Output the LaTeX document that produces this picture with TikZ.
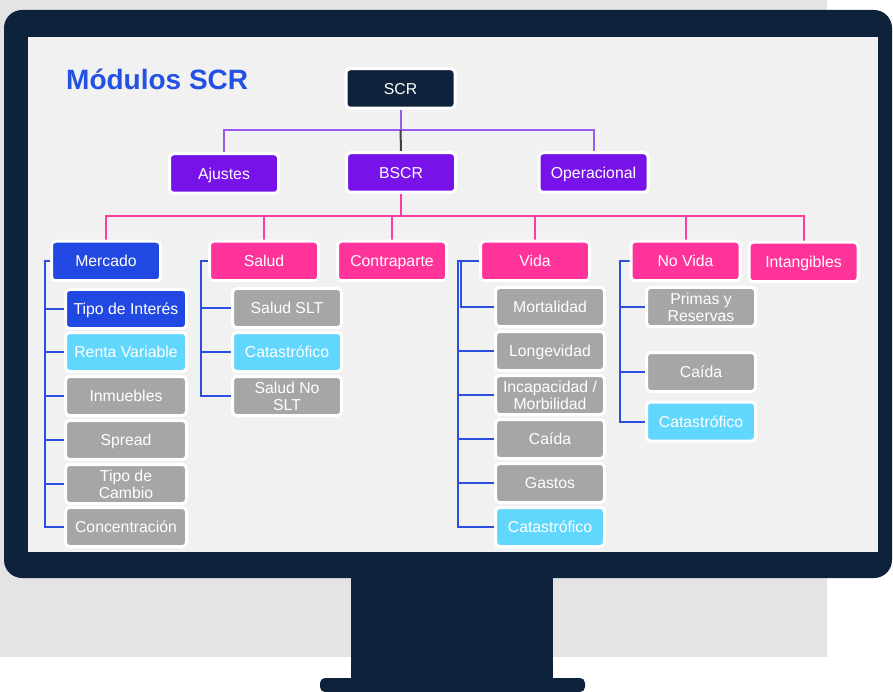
\documentclass[tikz,border=0pt]{standalone}
\usepackage{fontspec}
\setmainfont{Liberation Sans}
\pgfdeclarelayer{back}
\pgfdeclarelayer{wires}
\pgfsetlayers{back,wires,main}

\definecolor{navy}{HTML}{0E233B}
\definecolor{deskgray}{HTML}{E4E4E4}
\definecolor{screenbg}{HTML}{F1F1F1}
\definecolor{titleblue}{HTML}{2251E3}
\definecolor{boxblue}{HTML}{2148E3}
\definecolor{boxpink}{HTML}{FF3399}
\definecolor{boxpurple}{HTML}{7712E8}
\definecolor{boxgray}{HTML}{A6A6A6}
\definecolor{boxcyan}{HTML}{62D7FE}
\definecolor{linepurple}{HTML}{9B59F0}
\definecolor{linepink}{HTML}{FF3C9E}
\definecolor{lineblue}{HTML}{2C4FE0}
\definecolor{linedark}{HTML}{404040}

\newcommand\boxfont{\fontsize{15.8}{16.8}\selectfont}

\begin{document}
\begin{tikzpicture}[x=1pt,y=-1pt,
  modbox/.style={draw=white, line width=3pt, rounded corners=4pt,
    minimum width=109pt, minimum height=39.5pt, inner sep=0pt,
    text height=11.3pt, text depth=0pt,
    align=center, text=white, font=\boxfont},
  twoline/.style={text height={}, text depth={}},
  widebox/.style={modbox, minimum width=121pt},
  subbox/.style={modbox, minimum height=39pt},
  topbox/.style={modbox, fill=navy},
  purplebox/.style={modbox, fill=boxpurple},
  pinkbox/.style={modbox, fill=boxpink},
  bluebox/.style={modbox, fill=boxblue},
  graysub/.style={subbox, fill=boxgray},
  cyansub/.style={subbox, fill=boxcyan},
  purpwire/.style={draw=linepurple, line width=2pt},
  darkwire/.style={draw=linedark, line width=2pt},
  pinkwire/.style={draw=linepink, line width=2pt},
  bluewire/.style={draw=lineblue, line width=2pt}]
\useasboundingbox (0,0) rectangle (893,692);

% desk, monitor and screen
\begin{pgfonlayer}{back}
  \fill[white] (0,0) rectangle (893,692);
  \fill[deskgray] (0,0) rectangle (827,657);
  \fill[navy, rounded corners=18pt] (4,10) rectangle (892,578);
  \fill[navy] (351,570) rectangle (553,682);
  \fill[navy, rounded corners=5pt] (320,678) rectangle (585,692);
  \fill[screenbg] (28,37) rectangle (878,552);
\end{pgfonlayer}

% title
\node[anchor=base west, text=titleblue, font=\fontsize{28}{30}\selectfont\bfseries, inner sep=0pt]
  (title) at (66,90) {Módulos SCR};

% top levels
\node[topbox]    (scr)    at (400.5,88.5) {SCR};
\node[purplebox] (aj)     at (224,173.5)  {Ajustes};
\node[purplebox] (bscr)   at (401,172.5)  {BSCR};
\node[purplebox] (op)     at (593.5,172.5){Operacional};

\node[bluebox]   (merc)   at (106,261)    {Mercado};
\node[pinkbox]   (salud)  at (264,261)    {Salud};
\node[pinkbox]   (contra) at (392,261)    {Contraparte};
\node[pinkbox]   (vida)   at (535,261)    {Vida};
\node[pinkbox]   (novida) at (685.5,261)  {No Vida};
\node[pinkbox]   (intang) at (803.5,262)  {Intangibles};

% Mercado
\node[widebox, minimum height=39pt, fill=boxblue] (ti) at (126,309) {Tipo de Interés};
\node[widebox, minimum height=39pt, fill=boxcyan] (rv) at (126,352) {Renta Variable};
\node[widebox, minimum height=39pt, fill=boxgray] (inm) at (126,396) {Inmuebles};
\node[widebox, minimum height=39pt, fill=boxgray] (spr) at (126,440) {Spread};
\node[widebox, minimum height=39pt, fill=boxgray, twoline] (tc) at (126,484) {Tipo de\\Cambio};
\node[widebox, minimum height=39pt, fill=boxgray] (conc) at (126,527) {Concentración};

% Salud
\node[graysub] (sslt)  at (287,308) {Salud SLT};
\node[cyansub] (scat)  at (287,352) {Catastrófico};
\node[graysub, twoline] (snslt) at (287,396) {Salud No\\SLT};

% Vida
\node[graysub] (mort)  at (550,307) {Mortalidad};
\node[graysub] (long)  at (550,351) {Longevidad};
\node[graysub, twoline] (incap) at (550,395) {Incapacidad /\\Morbilidad};
\node[graysub] (vcaid) at (550,439) {Caída};
\node[graysub] (gast)  at (550,483) {Gastos};
\node[cyansub] (vcat)  at (550,527) {Catastrófico};

% No Vida
\node[graysub, twoline] (prim)  at (701,307)   {Primas y\\Reservas};
\node[graysub] (ncaid) at (701,372)   {Caída};
\node[cyansub] (ncat)  at (701,421.5) {Catastrófico};

% junctions and bracket spines
\coordinate (j1) at (400.5,130);
\coordinate (j2) at (401,216);
\coordinate (mb) at (45,261);
\coordinate (sb) at (201,261);
\coordinate (vb) at (458,261);
\coordinate (vb2) at (461,261);
\coordinate (nb) at (620,261);

\begin{pgfonlayer}{wires}
  % SCR to its modules
  \draw[purpwire] (scr.south) -- (j1);
  \draw[purpwire] (aj.north) |- (j1) -| (op.north);
  \draw[darkwire] (j1) -- (bscr.north);

  % BSCR to its modules
  \draw[pinkwire] (bscr.south) -- (j2);
  \draw[pinkwire] (merc.north) |- (j2) -| (intang.north);
  \foreach \n in {salud,contra,vida,novida}
    \draw[pinkwire] (\n.north) -- (\n.north |- j2);

  % Mercado bracket
  \draw[bluewire] (merc.west) -- (mb) |- (conc.west);
  \foreach \n in {ti,rv,inm,spr,tc}
    \draw[bluewire] (\n.west) -- (\n.west -| mb);

  % Salud bracket
  \draw[bluewire] (salud.west) -- (sb) |- (snslt.west);
  \foreach \n in {sslt,scat}
    \draw[bluewire] (\n.west) -- (\n.west -| sb);

  % Vida bracket
  \draw[bluewire] (vida.west) -- (vb) |- (vcat.west);
  \draw[bluewire] (vb2) |- (mort.west);
  \foreach \n in {long,incap,vcaid,gast}
    \draw[bluewire] (\n.west) -- (\n.west -| vb);

  % No Vida bracket
  \draw[bluewire] (novida.west) -- (nb) |- (ncat.west);
  \foreach \n in {prim,ncaid}
    \draw[bluewire] (\n.west) -- (\n.west -| nb);
\end{pgfonlayer}
\end{tikzpicture}
\end{document}
